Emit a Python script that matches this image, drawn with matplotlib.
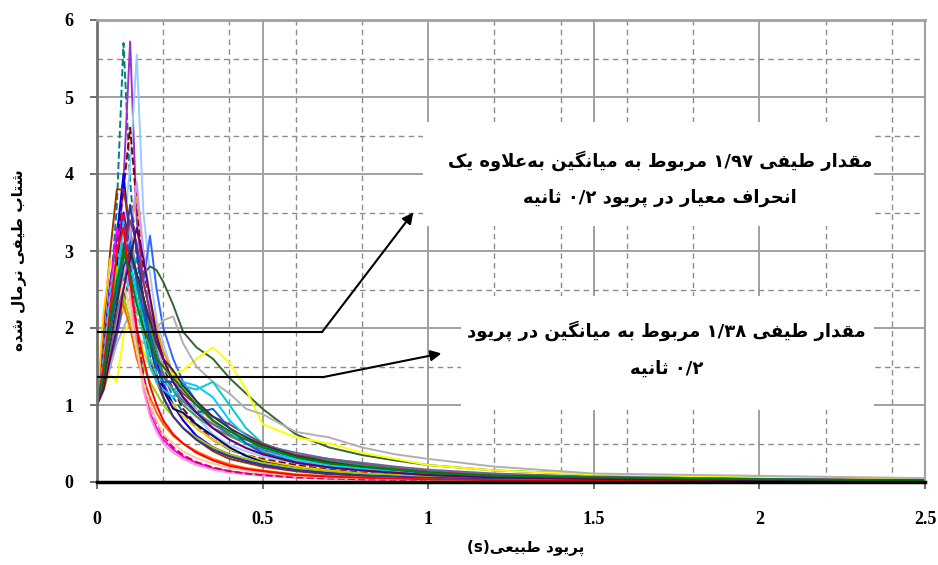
import re
import numpy as np
import matplotlib
matplotlib.use('Agg')
import matplotlib.pyplot as plt
from matplotlib.patches import Rectangle

# period grid (s) shared by all records
periods = [0.0, 0.02, 0.04, 0.06, 0.08, 0.10, 0.12, 0.14, 0.16, 0.18, 0.20, 0.23, 0.26, 0.30,
           0.35, 0.40, 0.45, 0.50, 0.60, 0.70, 0.80, 0.90, 1.0, 1.2, 1.5, 2.0, 2.5]

# normalized spectral acceleration, one list per record
sa_01 = [1.0, 1.6, 2.4, 3.6, 5.7, 3.9, 2.9, 2.4, 2.0, 1.6, 1.4, 1.1, 0.9, 0.7, 0.55, 0.42, 0.34, 0.28, 0.2, 0.15, 0.11, 0.09, 0.07, 0.05, 0.04, 0.02, 0.015]
sa_02 = [1.0, 1.4, 2.1, 2.8, 3.9, 5.72, 3.4, 2.6, 2.2, 1.7, 1.3, 1.0, 0.8, 0.6, 0.45, 0.36, 0.3, 0.24, 0.17, 0.12, 0.09, 0.07, 0.06, 0.04, 0.03, 0.02, 0.01]
sa_03 = [1.0, 1.3, 1.8, 2.5, 3.2, 4.1, 5.55, 3.5, 2.7, 2.1, 1.8, 1.4, 1.1, 0.85, 0.62, 0.48, 0.4, 0.33, 0.24, 0.18, 0.14, 0.11, 0.09, 0.06, 0.05, 0.03, 0.02]
sa_04 = [1.0, 1.5, 2.2, 3.1, 3.8, 4.6, 3.6, 2.8, 2.3, 1.9, 1.5, 1.2, 0.95, 0.75, 0.55, 0.43, 0.35, 0.3, 0.22, 0.16, 0.12, 0.1, 0.08, 0.05, 0.04, 0.02, 0.015]
sa_05 = [1.0, 1.7, 2.6, 3.2, 4.0, 3.1, 2.7, 2.2, 1.6, 1.3, 1.25, 1.0, 0.8, 0.6, 0.45, 0.35, 0.28, 0.22, 0.16, 0.12, 0.09, 0.07, 0.06, 0.04, 0.03, 0.02, 0.01]
sa_06 = [1.0, 2.0, 3.0, 3.8, 3.8, 3.3, 2.6, 2.0, 1.6, 1.3, 1.1, 0.85, 0.7, 0.55, 0.4, 0.3, 0.25, 0.2, 0.14, 0.1, 0.08, 0.06, 0.05, 0.035, 0.025, 0.015, 0.01]
sa_07 = [1.0, 1.3, 1.7, 2.3, 2.9, 3.3, 3.7, 3.0, 2.4, 2.0, 1.7, 1.4, 1.2, 1.0, 0.78, 0.6, 0.5, 0.4, 0.3, 0.22, 0.17, 0.13, 0.1, 0.07, 0.05, 0.03, 0.02]
sa_08 = [1.0, 1.2, 1.5, 1.9, 2.3, 2.7, 2.9, 2.6, 3.2, 2.5, 2.0, 1.6, 1.3, 1.05, 0.8, 0.62, 0.5, 0.42, 0.3, 0.22, 0.17, 0.13, 0.1, 0.07, 0.05, 0.03, 0.02]
sa_09 = [1.0, 2.2, 2.9, 2.5, 2.2, 2.4, 2.0, 1.7, 1.5, 1.3, 1.15, 1.0, 0.85, 0.7, 0.55, 0.43, 0.35, 0.28, 0.2, 0.15, 0.11, 0.09, 0.07, 0.05, 0.035, 0.02, 0.015]
sa_10 = [1.0, 1.3, 1.6, 2.0, 2.4, 2.6, 2.5, 2.7, 2.8, 2.75, 2.6, 2.3, 1.95, 1.75, 1.6, 1.35, 1.15, 0.95, 0.62, 0.45, 0.35, 0.28, 0.22, 0.15, 0.1, 0.06, 0.04]
sa_11 = [1.0, 1.2, 1.4, 1.3, 1.9, 2.1, 1.9, 1.7, 1.6, 1.5, 1.45, 1.4, 1.45, 1.6, 1.75, 1.55, 1.2, 0.75, 0.58, 0.5, 0.38, 0.3, 0.22, 0.15, 0.1, 0.06, 0.04]
sa_12 = [1.0, 1.2, 1.5, 1.8, 2.0, 2.2, 1.9, 1.8, 1.9, 2.0, 2.1, 2.15, 1.8, 1.5, 1.3, 1.15, 0.95, 0.88, 0.65, 0.58, 0.45, 0.36, 0.3, 0.2, 0.11, 0.08, 0.05]
sa_13 = [1.0, 1.5, 2.3, 2.9, 3.0, 3.3, 2.6, 2.1, 1.7, 1.5, 1.3, 1.2, 1.25, 1.2, 1.3, 1.0, 0.7, 0.5, 0.35, 0.25, 0.19, 0.15, 0.11, 0.08, 0.05, 0.03, 0.02]
sa_14 = [1.0, 1.6, 2.5, 3.3, 3.0, 2.6, 1.9, 1.3, 0.9, 0.7, 0.55, 0.42, 0.33, 0.25, 0.18, 0.14, 0.11, 0.09, 0.06, 0.045, 0.035, 0.03, 0.025, 0.02, 0.05, 0.04, 0.02]
sa_15 = [1.0, 1.4, 2.0, 2.8, 3.5, 3.0, 2.7, 2.4, 2.0, 1.6, 1.2, 0.95, 0.9, 0.75, 0.6, 0.45, 0.34, 0.26, 0.18, 0.13, 0.1, 0.08, 0.06, 0.04, 0.03, 0.02, 0.01]
sa_16 = [1.0, 1.3, 1.9, 2.5, 2.9, 2.4, 1.8, 1.2, 0.85, 0.65, 0.5, 0.38, 0.3, 0.22, 0.16, 0.12, 0.1, 0.08, 0.055, 0.04, 0.03, 0.025, 0.02, 0.015, 0.01, 0.01, 0.005]
sa_17 = [1.0, 1.2, 1.6, 2.1, 2.7, 3.2, 3.9, 3.0, 2.3, 1.8, 1.5, 1.3, 1.1, 0.95, 0.7, 0.55, 0.45, 0.37, 0.27, 0.2, 0.15, 0.12, 0.09, 0.06, 0.045, 0.025, 0.015]
sa_18 = [1.0, 1.5, 2.2, 2.7, 3.1, 2.8, 2.5, 2.3, 2.0, 1.7, 1.4, 1.2, 1.0, 0.85, 0.7, 0.6, 0.5, 0.45, 0.35, 0.28, 0.22, 0.17, 0.13, 0.09, 0.06, 0.035, 0.02]
sa_19 = [1.0, 1.4, 2.1, 2.6, 2.3, 2.0, 1.6, 1.35, 1.1, 0.9, 0.75, 0.6, 0.5, 0.4, 0.3, 0.23, 0.18, 0.15, 0.1, 0.075, 0.06, 0.05, 0.04, 0.03, 0.02, 0.015, 0.01]
sa_20 = [1.0, 1.3, 1.8, 2.4, 3.0, 3.4, 3.1, 2.6, 2.2, 1.9, 1.6, 1.3, 1.15, 1.0, 0.85, 0.75, 0.62, 0.5, 0.35, 0.3, 0.24, 0.19, 0.14, 0.09, 0.06, 0.035, 0.02]
sa_21 = [1.0, 1.4, 2.0, 2.6, 3.4, 2.9, 2.4, 1.9, 1.5, 1.3, 1.2, 1.1, 1.3, 1.25, 1.1, 0.8, 0.6, 0.45, 0.3, 0.22, 0.17, 0.13, 0.1, 0.07, 0.05, 0.03, 0.02]
sa_22 = [1.0, 1.3, 1.7, 2.2, 2.6, 2.9, 2.7, 2.3, 1.9, 1.6, 1.4, 1.2, 1.05, 0.9, 0.75, 0.62, 0.55, 0.48, 0.38, 0.3, 0.25, 0.2, 0.16, 0.11, 0.07, 0.04, 0.025]
sa_23 = [1.0, 1.5, 2.3, 2.8, 2.4, 2.1, 1.8, 1.5, 1.3, 1.15, 1.0, 0.85, 0.7, 0.58, 0.45, 0.36, 0.3, 0.25, 0.18, 0.14, 0.11, 0.09, 0.07, 0.05, 0.035, 0.02, 0.015]
sa_24 = [1.0, 1.4, 1.9, 2.4, 3.0, 3.6, 3.0, 2.4, 1.8, 1.4, 1.1, 0.85, 0.7, 0.55, 0.42, 0.33, 0.27, 0.22, 0.15, 0.11, 0.085, 0.07, 0.055, 0.04, 0.03, 0.02, 0.01]
sa_25 = [1.0, 1.5, 2.4, 3.1, 3.5, 2.8, 2.0, 1.4, 1.0, 0.78, 0.6, 0.45, 0.35, 0.26, 0.19, 0.14, 0.11, 0.09, 0.06, 0.045, 0.035, 0.03, 0.025, 0.02, 0.015, 0.01, 0.005]
sa_26 = [1.0, 1.6, 2.5, 3.0, 2.7, 2.5, 2.2, 1.9, 1.6, 1.4, 1.3, 1.2, 1.1, 0.95, 0.8, 0.65, 0.5, 0.4, 0.28, 0.2, 0.16, 0.12, 0.1, 0.07, 0.05, 0.03, 0.02]
sa_27 = [1.0, 1.3, 1.8, 2.3, 2.6, 2.2, 1.7, 1.3, 1.0, 0.8, 0.62, 0.5, 0.4, 0.31, 0.24, 0.18, 0.15, 0.12, 0.08, 0.06, 0.05, 0.04, 0.03, 0.022, 0.015, 0.01, 0.005]
sa_28 = [1.0, 1.4, 2.0, 2.5, 2.9, 3.1, 2.6, 2.2, 1.9, 1.5, 1.3, 1.3, 1.1, 0.9, 0.95, 0.7, 0.5, 0.38, 0.26, 0.19, 0.15, 0.12, 0.09, 0.06, 0.045, 0.03, 0.02]
sa_29 = [1.0, 1.3, 1.8, 2.3, 2.8, 3.0, 2.7, 2.4, 2.1, 1.8, 1.6, 1.45, 1.25, 1.05, 0.85, 0.7, 0.58, 0.48, 0.34, 0.26, 0.2, 0.16, 0.12, 0.08, 0.055, 0.03, 0.02]
sa_30 = [1.0, 1.5, 2.2, 3.0, 3.3, 2.6, 2.0, 1.6, 1.25, 1.0, 0.8, 0.62, 0.5, 0.38, 0.28, 0.21, 0.17, 0.14, 0.09, 0.07, 0.055, 0.045, 0.035, 0.025, 0.018, 0.01, 0.005]
sa_31 = [1.0, 1.2, 1.6, 2.0, 2.5, 2.9, 3.3, 2.9, 2.4, 1.9, 1.6, 1.3, 1.1, 0.9, 0.7, 0.55, 0.44, 0.36, 0.25, 0.19, 0.15, 0.12, 0.09, 0.06, 0.04, 0.025, 0.015]
sa_32 = [1.0, 1.4, 2.1, 2.6, 3.0, 2.7, 2.3, 2.0, 1.8, 1.6, 1.5, 1.35, 1.2, 1.0, 0.8, 0.66, 0.55, 0.45, 0.32, 0.24, 0.2, 0.16, 0.12, 0.08, 0.06, 0.035, 0.02]

records = [sa_01, sa_02, sa_03, sa_04, sa_05, sa_06, sa_07, sa_08, sa_09, sa_10, sa_11,
           sa_12, sa_13, sa_14, sa_15, sa_16, sa_17, sa_18, sa_19, sa_20, sa_21, sa_22,
           sa_23, sa_24, sa_25, sa_26, sa_27, sa_28, sa_29, sa_30, sa_31, sa_32]

colors = ['#008080', '#9933CC', '#99CCFF', '#800000', '#0000FF', '#993300', '#FF9900', '#3366FF',
          '#FFCC00', '#336633', '#FFFF00', '#B0B0B0', '#00CCCC', '#FF00FF', '#000080', '#FF99CC',
          '#CC99FF', '#339966', '#FF6600', '#993366', '#00CCFF', '#666699', '#99CC00', '#333399',
          '#CC0066', '#33CCCC', '#FFCC99', '#0066CC', '#333333', '#FF0000', '#660066', '#008000']
dashed = {0, 3, 24, 25}

# annotated values
mean_plus_std = 1.95
mean_val = 1.36
bend_T = 0.68
head1 = (0.955, 3.5)
head2 = (1.04, 1.67)

# persian labels (logical order)
txt_box1 = ['مقدار طیفی ۱/۹۷ مربوط به میانگین به\u200cعلاوه یک', 'انحراف معیار در پریود ۰/۲ ثانیه']
txt_box2 = ['مقدار طیفی ۱/۳۸ مربوط به میانگین در پریود', '۰/۲ ثانیه']
ylab = 'شتاب طیفی نرمال شده'
xlab = 'پریود طبیعی'

# matplotlib has no arabic shaping, so do it by hand with presentation forms
FORMS = {
    'ا': ('\ufe8d', '\ufe8e'), 'د': ('\ufea9', '\ufeaa'), 'ر': ('\ufead', '\ufeae'),
    'و': ('\ufeed', '\ufeee'),
    'ب': ('\ufe8f', '\ufe90', '\ufe91', '\ufe92'), 'پ': ('\ufb56', '\ufb57', '\ufb58', '\ufb59'),
    'ت': ('\ufe95', '\ufe96', '\ufe97', '\ufe98'), 'ث': ('\ufe99', '\ufe9a', '\ufe9b', '\ufe9c'),
    'ح': ('\ufea1', '\ufea2', '\ufea3', '\ufea4'), 'ش': ('\ufeb5', '\ufeb6', '\ufeb7', '\ufeb8'),
    'ط': ('\ufec1', '\ufec2', '\ufec3', '\ufec4'), 'ع': ('\ufec9', '\ufeca', '\ufecb', '\ufecc'),
    'ف': ('\ufed1', '\ufed2', '\ufed3', '\ufed4'), 'ق': ('\ufed5', '\ufed6', '\ufed7', '\ufed8'),
    'ک': ('\ufb8e', '\ufb8f', '\ufb90', '\ufb91'), 'گ': ('\ufb92', '\ufb93', '\ufb94', '\ufb95'),
    'ل': ('\ufedd', '\ufede', '\ufedf', '\ufee0'), 'م': ('\ufee1', '\ufee2', '\ufee3', '\ufee4'),
    'ن': ('\ufee5', '\ufee6', '\ufee7', '\ufee8'), 'ه': ('\ufee9', '\ufeea', '\ufeeb', '\ufeec'),
    'ی': ('\ufbfc', '\ufbfd', '\ufbfe', '\ufbff'),
}


def shape(s):
    out = []
    prev_joins = False
    i = 0
    while i < len(s):
        c = s[i]
        if c not in FORMS:
            if c != '\u200c':
                out.append(c)
            prev_joins = False
            i += 1
            continue
        if c == 'ل' and i + 1 < len(s) and s[i + 1] == 'ا':
            out.append('\ufefc' if prev_joins else '\ufefb')
            prev_joins = False
            i += 2
            continue
        next_joins = i + 1 < len(s) and s[i + 1] in FORMS
        f = FORMS[c]
        if len(f) == 4:
            if prev_joins and next_joins:
                g = f[3]
            elif prev_joins:
                g = f[1]
            elif next_joins:
                g = f[2]
            else:
                g = f[0]
            prev_joins = True
        else:
            g = f[1] if prev_joins else f[0]
            prev_joins = False
        out.append(g)
        i += 1
    vis = ''.join(out)[::-1]
    vis = re.sub(r'[۰-۹/]+', lambda m: m.group(0)[::-1], vis)
    return vis


fig = plt.figure(figsize=(9.38, 5.65), dpi=100)
ax = fig.add_axes([97/938, 1-482/565, 828/938, 462/565])

for k, rec in enumerate(records):
    ax.plot(periods, rec, color=colors[k], lw=1.4, ls='--' if k in dashed else '-', zorder=2)

ax.set_xlim(0, 2.5)
ax.set_ylim(0, 6)
ax.set_xticks(np.arange(0, 2.51, 0.5))
ax.set_xticks(np.arange(0, 2.51, 0.2), minor=True)
ax.set_yticks(np.arange(0, 7, 1))
ax.set_yticks(np.arange(0, 6.1, 0.5), minor=True)
ax.set_xticklabels(['0', '0.5', '1', '1.5', '2', '2.5'])
ax.grid(which='major', color='#a0a0a0', lw=1.4, ls='-')
ax.grid(which='minor', color='#8c8c8c', lw=1.0, ls=(0, (4, 3)))
ax.set_axisbelow(True)
ax.tick_params(which='minor', length=0)
ax.tick_params(which='major', direction='out', length=5, width=1.2, color='#555555')
ax.tick_params(axis='x', pad=16)
ax.tick_params(axis='y', pad=12)
for lab in ax.get_xticklabels() + ax.get_yticklabels():
    lab.set_fontfamily('Liberation Serif')
    lab.set_fontweight('bold')
    lab.set_fontsize(13)

ax.spines['left'].set_color('#707070')
ax.spines['left'].set_linewidth(2)
ax.spines['top'].set_color('#a0a0a0')
ax.spines['top'].set_linewidth(2)
ax.spines['right'].set_color('#a0a0a0')
ax.spines['right'].set_linewidth(1.5)
ax.spines['bottom'].set_color('black')
ax.spines['bottom'].set_linewidth(2.5)

# white text boxes covering the grid
ax.add_patch(Rectangle((0.985, 3.32), 1.36, 1.36, facecolor='white', edgecolor='none', zorder=1))
ax.add_patch(Rectangle((1.10, 0.93), 1.245, 1.49, facecolor='white', edgecolor='none', zorder=1))

tkw = dict(family=['DejaVu Sans'], fontweight='bold', fontsize=13, ha='center', va='center', zorder=4)
ax.text(1.70, 4.17, shape(txt_box1[0]), **tkw)
ax.text(1.70, 3.69, shape(txt_box1[1]), **tkw)
ax.text(1.72, 1.97, shape(txt_box2[0]), **tkw)
ax.text(1.72, 1.47, shape(txt_box2[1]), **tkw)

# leader lines with arrows
ax.plot([0, bend_T], [mean_plus_std, mean_plus_std], color='black', lw=1.5, zorder=5)
ax.plot([0, bend_T], [mean_val, mean_val], color='black', lw=1.5, zorder=5)
aprops = dict(arrowstyle='-|>', color='black', lw=1.5, mutation_scale=16, shrinkA=0, shrinkB=0)
ax.annotate('', xy=head1, xytext=(bend_T, mean_plus_std), arrowprops=aprops, zorder=5)
ax.annotate('', xy=head2, xytext=(bend_T, mean_val), arrowprops=aprops, zorder=5)

fig.text(18/938, 1-260/565, shape(ylab), rotation=90, family=['DejaVu Sans'], fontweight='bold',
         fontsize=11, ha='center', va='center')
fig.text(526/938, 1-548/565, '(s)' + shape(xlab), family=['DejaVu Sans'], fontweight='bold',
         fontsize=11, ha='center', va='center')

fig.savefig('out.png', dpi=100)
